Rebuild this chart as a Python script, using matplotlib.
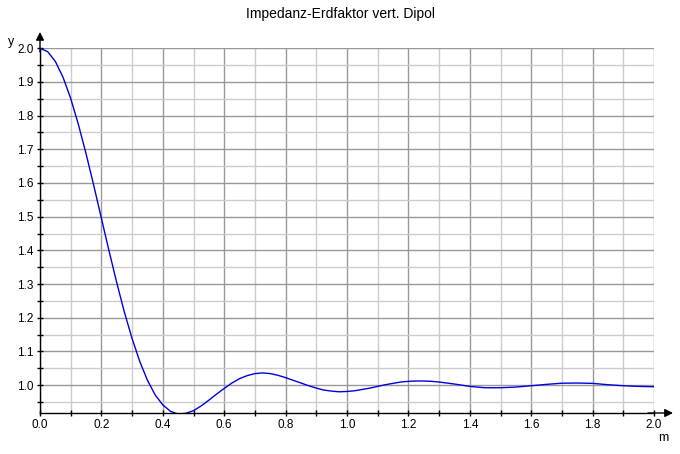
import numpy as np
import matplotlib
matplotlib.use('Agg')
import matplotlib.pyplot as plt
from matplotlib.ticker import MultipleLocator

plt.rcParams['font.family'] = ['Liberation Sans', 'DejaVu Sans']

# h/lambda values and the impedance ground factor
m = [0.0, 0.025, 0.05, 0.075, 0.1, 0.125, 0.15, 0.175, 0.2, 0.225, 0.25,
     0.275, 0.3, 0.325, 0.35, 0.375, 0.4, 0.425, 0.45, 0.475, 0.5,
     0.525, 0.55, 0.575, 0.6, 0.625, 0.65, 0.675, 0.7, 0.725, 0.75, 0.775,
     0.8, 0.825, 0.85, 0.875, 0.9, 0.925, 0.95, 0.975, 1.0, 1.025, 1.05,
     1.075, 1.1, 1.125, 1.15, 1.175, 1.2, 1.225, 1.25, 1.275, 1.3, 1.35,
     1.4, 1.45, 1.5, 1.55, 1.6, 1.65, 1.7, 1.75, 1.8, 1.85, 1.9, 1.95, 2.0]
y = [2.0, 1.990, 1.961, 1.914, 1.851, 1.774, 1.687, 1.593, 1.495, 1.398, 1.304,
     1.216, 1.138, 1.070, 1.014, 0.971, 0.941, 0.922, 0.914, 0.916, 0.924,
     0.938, 0.955, 0.973, 0.990, 1.006, 1.019, 1.028, 1.034, 1.036, 1.034, 1.029,
     1.022, 1.014, 1.006, 0.998, 0.991, 0.985, 0.982, 0.980, 0.981, 0.983, 0.987,
     0.991, 0.996, 1.001, 1.005, 1.009, 1.011, 1.012, 1.012, 1.011, 1.009, 1.003,
     0.996, 0.992, 0.992, 0.994, 0.998, 1.002, 1.0055, 1.006, 1.005, 1.001, 0.998, 0.996, 0.995]

fig = plt.figure(figsize=(6.8, 4.54), dpi=100)
ax = fig.add_axes([40/680, 1-413/454, 614/680, (413-48.3)/454])

ax.plot(m, y, color='#0000dd', lw=1)

ax.set_xlim(0, 2.0)
ax.set_ylim(0.917, 2.0)
ax.xaxis.set_major_locator(MultipleLocator(0.2))
ax.xaxis.set_minor_locator(MultipleLocator(0.1))
ax.yaxis.set_major_locator(MultipleLocator(0.1))
ax.yaxis.set_minor_locator(MultipleLocator(0.05))
ax.set_yticks(np.arange(1.0, 2.01, 0.1))
ax.xaxis.set_major_formatter(matplotlib.ticker.FormatStrFormatter('%.1f'))
ax.yaxis.set_major_formatter(matplotlib.ticker.FormatStrFormatter('%.1f'))

ax.grid(which='major', color='#999999', lw=1)
ax.grid(which='minor', color='#cccccc', lw=1)
ax.set_axisbelow(True)

ax.tick_params(which='both', direction='inout', length=5, width=1, labelsize=8.5, pad=2)
ax.tick_params(axis='x', pad=1.5)

for s in ['top', 'right']:
    ax.spines[s].set_visible(False)
for s in ['left', 'bottom']:
    ax.spines[s].set_color('black')
    ax.spines[s].set_linewidth(1)
    ax.spines[s].set_zorder(3)

# axis arrows
ax.annotate('', xy=(1.031, 0), xycoords='axes fraction', xytext=(0.99, 0),
            arrowprops=dict(arrowstyle='-|>', color='k', lw=1, mutation_scale=12,
                            shrinkA=0, shrinkB=0), annotation_clip=False)
ax.annotate('', xy=(0, 1.045), xycoords='axes fraction', xytext=(0, 0.99),
            arrowprops=dict(arrowstyle='-|>', color='k', lw=1, mutation_scale=12,
                            shrinkA=0, shrinkB=0), annotation_clip=False)

fig.text(8/680, 1-42/454, 'y', fontsize=9, ha='left', va='center')
fig.text(663/680, 1-438/454, 'm', fontsize=9, ha='center', va='center')
fig.text(0.5, 1-14/454, 'Impedanz-Erdfaktor vert. Dipol', fontsize=10, ha='center', va='center')

fig.savefig('out.png', dpi=100)
